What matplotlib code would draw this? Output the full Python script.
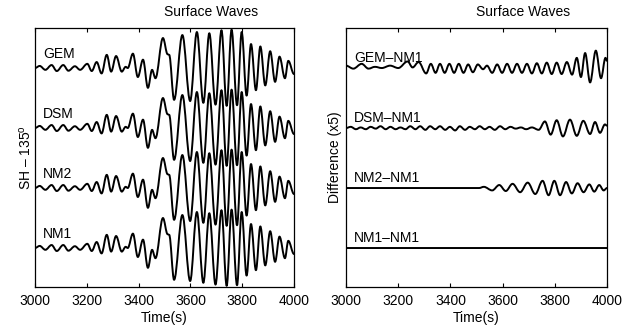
import numpy as np
import matplotlib
matplotlib.use("Agg")
import matplotlib.pyplot as plt
from matplotlib.path import Path
from matplotlib.patches import PathPatch

plt.rcParams['font.family'] = ['Liberation Sans', 'DejaVu Sans']
plt.rcParams['mathtext.fontset'] = 'custom'
plt.rcParams['mathtext.rm'] = 'Liberation Sans'

# extrema of the SH seismogram (time s, amplitude in trace spacings)
sh_t = [3000, 3018, 3040, 3064, 3084, 3109, 3129, 3154, 3174, 3202, 3219, 3238, 3257,
        3277, 3294, 3313, 3335, 3350, 3358, 3378, 3397, 3417, 3436, 3452, 3465, 3494,
        3512, 3518, 3537, 3569, 3599, 3625, 3650, 3673, 3697, 3720, 3740, 3759, 3780,
        3798, 3817, 3834, 3853, 3870, 3889, 3908, 3927, 3944, 3965, 3978, 4000]
sh_a = [0.00, 0.035, -0.03, 0.05, -0.05, 0.05, -0.045, 0.03, -0.03, 0.07, -0.05, 0.10, -0.09,
        0.22, -0.06, 0.20, -0.06, 0.02, 0.00, 0.24, -0.15, 0.14, -0.33, -0.03, -0.17, 0.50,
        0.23, 0.22, -0.53, 0.55, -0.55, 0.60, -0.58, 0.58, -0.61, 0.63, -0.63, 0.64, -0.62,
        0.60, -0.46, 0.40, -0.37, 0.36, -0.29, 0.28, -0.23, 0.19, -0.17, 0.12, -0.10]

left_names = ['NM1', 'NM2', 'DSM', 'GEM']

# difference traces (x5)
gem_t = [3000, 3028, 3060, 3086, 3111, 3137, 3169, 3200, 3236, 3255, 3278, 3307,
         3325, 3343, 3360, 3378, 3396, 3414, 3432, 3450, 3468, 3486, 3505, 3525, 3540, 3560,
         3579, 3598, 3617, 3636, 3655, 3674, 3693, 3712, 3731, 3750, 3769, 3788, 3807, 3826,
         3846, 3866, 3884, 3900, 3916, 3935, 3957, 3977, 3994, 4000]
gem_a = [0.04, -0.01, 0.07, -0.01, 0.02, 0.00, 0.04, 0.00, 0.11, 0.01, 0.10, -0.09,
         0.07, -0.08, 0.07, -0.08, 0.07, -0.08, 0.07, -0.08, 0.06, -0.07, 0.06, -0.02, 0.04, -0.08,
         0.06, -0.08, 0.07, -0.08, 0.07, -0.08, 0.07, -0.09, 0.08, -0.09, 0.09, -0.10, 0.09, -0.10,
         0.10, -0.11, 0.17, -0.15, 0.25, -0.24, 0.29, -0.17, 0.17, 0.12]

dsm_t = [3000, 3018, 3038, 3056, 3076, 3094, 3114, 3132, 3152, 3170, 3190, 3208, 3228,
         3246, 3266, 3284, 3304, 3322, 3342, 3360, 3380, 3398, 3418, 3436, 3456, 3474,
         3494, 3512, 3532, 3550, 3570, 3590, 3610, 3630, 3650, 3670, 3690, 3712, 3738,
         3762, 3784, 3807, 3831, 3858, 3884, 3909, 3935, 3954, 3973, 3992, 4000]
dsm_a = [0.00, 0.02, -0.02, 0.01, -0.02, 0.02, -0.01, 0.03, -0.02, 0.02, -0.02, 0.01, -0.02,
         0.03, -0.02, 0.03, -0.03, 0.03, -0.02, 0.03, -0.03, 0.02, -0.04, 0.03, -0.03, 0.02,
         -0.02, 0.03, -0.02, 0.02, -0.03, 0.03, -0.02, 0.02, -0.01, 0.01, -0.02, 0.01, -0.03,
         0.11, -0.11, 0.13, -0.14, 0.14, -0.13, 0.12, -0.10, 0.10, -0.08, 0.06, 0.04]

nm2_t = [3000, 3200, 3480, 3510, 3528, 3560, 3587, 3612, 3638, 3667, 3696, 3725, 3753,
         3776, 3798, 3820, 3843, 3865, 3887, 3910, 3932, 3951, 3970, 3987, 4000]
nm2_a = [0.00, 0.00, 0.00, 0.00, 0.02, -0.04, 0.05, -0.05, 0.07, -0.07, 0.09, -0.10, 0.12,
         -0.12, 0.12, -0.12, 0.10, -0.09, 0.08, -0.07, 0.06, -0.06, 0.05, -0.04, 0.00]

nm1_t = [3000, 4000]
nm1_a = [0.00, 0.00]

right_names = ['NM1–NM1', 'NM2–NM1', 'DSM–NM1', 'GEM–NM1']


def trace(ax, t, a, base):
    # smooth curve through the extrema, horizontal tangent at each one
    t = np.asarray(t, float)
    a = np.asarray(a, float) + base
    verts = [(t[0], a[0])]
    codes = [Path.MOVETO]
    for i in range(len(t) - 1):
        d = t[i + 1] - t[i]
        verts += [(t[i] + 0.36 * d, a[i]), (t[i + 1] - 0.36 * d, a[i + 1]), (t[i + 1], a[i + 1])]
        codes += [Path.CURVE4] * 3
    ax.add_patch(PathPatch(Path(verts, codes), fill=False, lw=1.4, color='black',
                           capstyle='round', joinstyle='round'))


fig = plt.figure(figsize=(6.39, 3.27), dpi=100)
ax1 = fig.add_axes([0.0548, 0.1223, 0.4053, 0.792])
ax2 = fig.add_axes([0.5415, 0.1223, 0.4085, 0.792])

for k, name in enumerate(left_names):
    trace(ax1, sh_t, sh_a, k)
    ax1.text(3030, k + 0.23, name, fontsize=10, va='center', ha='left')

right_data = [(nm1_t, nm1_a), (nm2_t, nm2_a), (dsm_t, dsm_a), (gem_t, gem_a)]
for k, (name, (t, a)) in enumerate(zip(right_names, right_data)):
    trace(ax2, t, a, k)
    ax2.text(3030, k + 0.16, name, fontsize=10, va='center', ha='left')

for ax in (ax1, ax2):
    ax.set_xlim(3000, 4000)
    ax.set_ylim(-0.65, 3.667)
    ax.set_xticks(np.arange(3000, 4001, 200))
    ax.set_yticks([])
    ax.tick_params(axis='x', direction='in', top=True, length=3, labelsize=10, pad=5)
    for s in ax.spines.values():
        s.set_linewidth(0.9)
    ax.set_xlabel('Time(s)', fontsize=10, labelpad=2)
    ax.text(0.68, 1.06, 'Surface Waves', transform=ax.transAxes, fontsize=10,
            ha='center', va='center')

ax1.set_ylabel('SH – 135$^{\\rm o}$', fontsize=10, labelpad=1)
ax2.set_ylabel('Difference (x5)', fontsize=10, labelpad=3)

fig.savefig('out.png', dpi=100)
